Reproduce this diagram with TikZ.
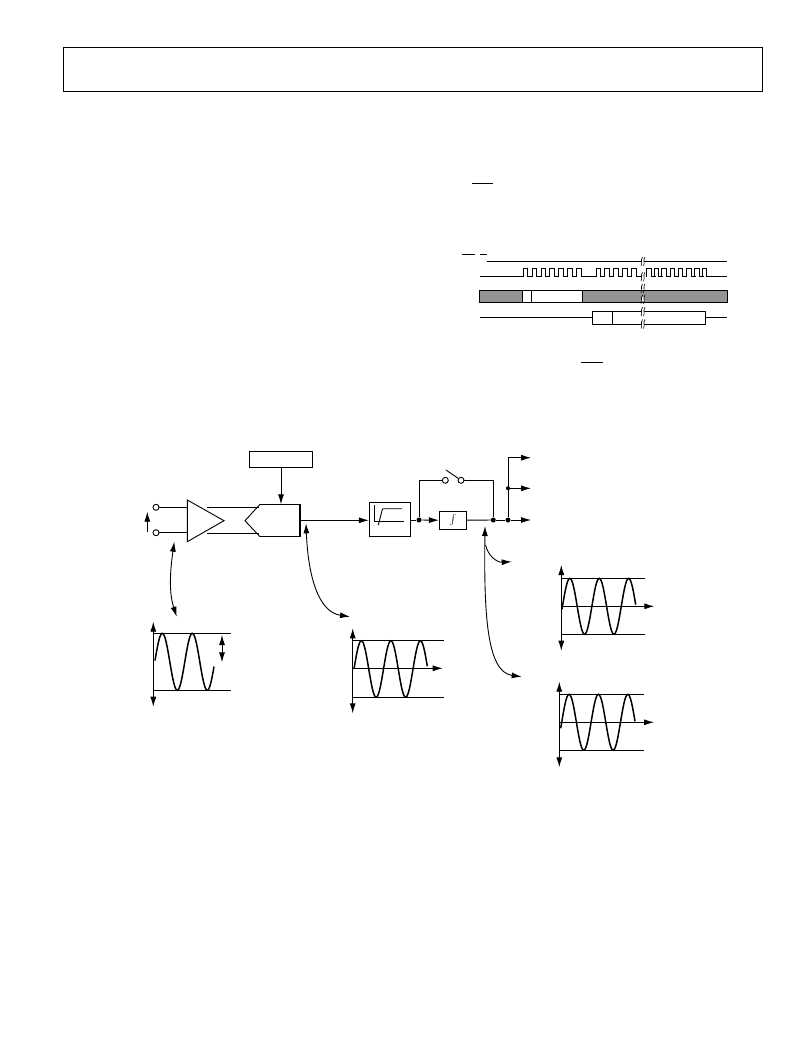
\documentclass[tikz,border=0pt]{standalone}
\usetikzlibrary{shapes,arrows.meta}
\tikzstyle{block} = [rectangle, draw, line width=0.9pt, inner sep=0pt]
\tikzstyle{tip} = [{Latex[length=10pt,width=6pt]}-{Latex[length=10pt,width=6pt]}]
\tikzstyle{line} = [draw, line width=0.9pt, -{Latex[length=10pt,width=6pt]}]
\tikzstyle{dline} = [draw, line width=0.9pt, tip]
\tikzstyle{wire} = [draw, line width=0.9pt]
\tikzstyle{dot} = [circle, fill=black, inner sep=0pt, minimum size=5pt]
\tikzstyle{term} = [circle, draw, fill=white, line width=0.9pt, inner sep=0pt, minimum size=6pt]
\tikzstyle{wave} = [line width=1.5pt, smooth, samples=70]
\tikzstyle{brk} = [line width=0.6pt]
\tikzstyle{pulse} = [line width=0.9pt, line join=miter]
\definecolor{busgray}{gray}{0.58}
\begin{document}
\begin{tikzpicture}[x=1pt, y=-1pt]
	\useasboundingbox (0,0) rectangle (802,1038);

	% page header
	\node [block, minimum width=699pt, minimum height=44pt] (header) at (413.2,69) {};

	% timing
	\coordinate (barA) at (472,183); \coordinate (barAe) at (493,183);
	\coordinate (barB) at (462,254.5); \coordinate (barBe) at (475,254.5);
	\coordinate (barC) at (480,254.5); \coordinate (barCe) at (487,254.5);
	\coordinate (barD) at (581,362); \coordinate (barDe) at (603,362);
	\path [wire] (barA) -- (barAe);
	\path [wire] (barB) -- (barBe);
	\path [wire] (barC) -- (barCe);
	\path [wire] (barD) -- (barDe);

	\coordinate (csL) at (487,261); \coordinate (csR) at (727,261);
	\path [wire] (csL) -- (csR);

	\coordinate (clkL) at (480,276.5); \coordinate (clkR) at (727,276.5);
	\path [wire] (clkL) -- (523.3,276.5);
	\path [wire] (581,276.5) -- (596,276.5);
	\foreach \x in {523.3,532.15,541,549.85,558.7,567.55,576.4,596,604.9,613.8,622.7,631.6,646.7,654,661.7,670,678.3,686.6,694.9,702.3} {
		\draw [pulse] (\x,276.5) -- (\x,268.5) -- (\x+4.6,268.5) -- (\x+4.6,276.5) -- (\x+8.9,276.5);
	}
	\path [wire] (706.9,276.5) -- (clkR);

	\node [block, fill=busgray, minimum width=248pt, minimum height=12pt] (sdo) at (603.5,296.5) {};
	\node [block, fill=white, minimum width=60pt, minimum height=12pt] (sdoA) at (552.5,296.5) {};
	\coordinate (sdoDa) at (531,290.5); \coordinate (sdoDb) at (531,302.5);
	\path [wire] (sdoDa) -- (sdoDb);

	\node [block, fill=white, minimum width=113.5pt, minimum height=13.5pt] (sdi) at (648.75,317.75) {};
	\coordinate (sdiL) at (480,317); \coordinate (sdiR) at (727,317);
	\path [wire] (sdiL) -- (sdi.west |- sdiL);
	\path [wire] (sdi.east |- sdiR) -- (sdiR);
	\coordinate (sdiDa) at (612.5,311); \coordinate (sdiDb) at (612.5,324.5);
	\path [wire] (sdiDa) -- (sdiDb);

	\foreach \y in {261.5,276.7,288.3,299.3,311.7,324} {
		\fill [white] (641,\y-2) rectangle (644.2,\y+2);
		\draw [brk] (642.6,\y-4.5) .. controls (640,\y-2.5) and (642.5,\y-1) .. (641.5,\y) .. controls (640.5,\y+1.5) and (643,\y+2.5) .. (641,\y+4.5);
		\draw [brk] (645,\y-4.5) .. controls (642.5,\y-2.5) and (645,\y-1) .. (644,\y) .. controls (643,\y+1.5) and (645.5,\y+2.5) .. (643.5,\y+4.5);
	}

	% signal chain
	\node [block, minimum width=63.4pt, minimum height=16pt] (refbox) at (281,459.3) {};
	\node [term] (inP) at (156,507.3) {};
	\node [term] (inN) at (156,532.7) {};
	\coordinate (vinB) at (147.3,532.3); \coordinate (vinT) at (147.3,511.7);
	\path [line] (vinB) -- (vinT);

	\coordinate (ampT) at (187.3,500); \coordinate (ampB) at (187.3,541.7); \coordinate (ampO) at (224,520.7);
	\path [wire, line join=miter] (ampT) -- (ampO) -- (ampB) -- cycle;
	\path [wire] (inP) -- (ampT |- inP);
	\path [wire] (inN) -- (ampT |- inN);

	\coordinate (adcT) at (260,504.3); \coordinate (adcR) at (300,504.3);
	\coordinate (adcS) at (300,536.7); \coordinate (adcB) at (260,536.7); \coordinate (adcN) at (245,520.7);
	\path [wire] (adcB) -- (adcN) -- (adcT);
	\path [draw, line width=1.1pt, line join=miter] (adcT) -- (adcR) -- (adcS) -- (adcB);
	\path [wire] (207,507.3) -- (258.5,507.3);
	\path [wire] (207,533) -- (258.5,533);
	\path [line] (refbox) -- (refbox |- adcT);

	\node [block, minimum width=41.4pt, minimum height=34.4pt] (sinc) at (390,519.5) {};
	\draw [line width=0.9pt] (374,505) -- (374,521.3) -- (403.7,521.3);
	\draw [line width=0.9pt] (378.3,525) -- (382.2,510) -- (383,508.7) -- (402,508.7);
	\path [line] (adcS |- 0,520.3) -- (sinc.west |- 0,520.3);

	\node [dot] (nodeA) at (419,520) {};
	\node [block, minimum width=27.4pt, minimum height=18pt] (intg) at (453,520.3) {\large$\int$};
	\node [dot] (nodeB) at (493.3,520) {};
	\node [dot] (nodeC) at (508,520) {};
	\node [dot, minimum size=4pt] (nodeD) at (508,488.3) {};
	\node [term] (swL) at (445.3,480.3) {};
	\node [term] (swR) at (461,480.3) {};
	\coordinate (swArm) at (446,470);
	\coordinate (outA) at (531,457.7); \coordinate (outB) at (531,488.3); \coordinate (outC) at (531,520);
	\path [wire] (sinc.east |- nodeA) -- (nodeA);
	\path [line] (nodeA) -- (intg);
	\path [wire] (intg) -- (nodeB);
	\path [wire] (nodeB) -- (nodeC);
	\path [line] (nodeC) -- (outC);
	\path [wire] (nodeA) |- (swL);
	\path [wire] (swR) -| (nodeB);
	\path [wire] (swArm) -- (swR);
	\path [line] (nodeC) |- (outA);
	\path [line] (nodeD) -- (outB);

	% curved pointers
	\coordinate (ptrAa) at (174.3,541.7); \coordinate (ptrAb) at (176.7,616.7);
	\draw [line width=0.9pt, tip] (ptrAa) .. controls (171,565) and (168,590) .. (ptrAb);
	\coordinate (ptrBa) at (306,523.3); \coordinate (ptrBb) at (350,616.7);
	\draw [line width=0.9pt, tip] (ptrBa) .. controls (308,575) and (318,612) .. (ptrBb);
	\coordinate (ptrCa) at (485,526); \coordinate (ptrCb) at (521.7,676.7); \coordinate (ptrCc) at (511.7,561.7);
	\draw [line width=0.9pt, tip] (ptrCa) .. controls (484,610) and (486,672) .. (ptrCb);
	\path [line] (485.6,545) .. controls (488,556) and (497,562.5) .. (ptrCc);

	% plot one
	\coordinate (aT) at (153.3,621.7); \coordinate (aB) at (153.3,706.7);
	\path [dline] (aT) -- (aB);
	\coordinate (aU) at (153.3,633.3); \coordinate (aUe) at (231,633.3);
	\coordinate (aD) at (153.3,690.3); \coordinate (aDe) at (231,690.3);
	\path [wire] (aU) -- (aUe);
	\path [wire] (aD) -- (aDe);
	\draw [wave, domain=155:214] plot (\x, {661.8-28.5*sin(12*(\x-154.8))});
	\coordinate (aAt) at (222,635); \coordinate (aAb) at (222,662.3);
	\path [dline] (aAt) -- (aAb);

	% plot two
	\coordinate (bT) at (352.7,628.3); \coordinate (bB) at (352.7,713.3);
	\path [dline] (bT) -- (bB);
	\coordinate (bU) at (352.7,640.7); \coordinate (bUe) at (444.3,640.7);
	\coordinate (bD) at (352.7,697.3); \coordinate (bDe) at (444.3,697.3);
	\coordinate (bM) at (352.7,668.3); \coordinate (bMe) at (442.7,668.3);
	\path [wire] (bU) -- (bUe);
	\path [wire] (bD) -- (bDe);
	\path [line] (bM) -- (bMe);
	\draw [wave, domain=354:427.3] plot (\x, {669-28.3*sin(12.2*(\x-354))});

	% plot three
	\coordinate (cT) at (561.3,565); \coordinate (cB) at (561.3,650.7);
	\path [dline] (cT) -- (cB);
	\coordinate (cU) at (561.3,578.3); \coordinate (cUe) at (645,578.3);
	\coordinate (cD) at (561.3,634.3); \coordinate (cDe) at (645,634.3);
	\coordinate (cM) at (561.3,606.3); \coordinate (cMe) at (654.3,606.3);
	\path [wire] (cU) -- (cUe);
	\path [wire] (cD) -- (cDe);
	\path [line] (cM) -- (cMe);
	\draw [wave, domain=562:635.7] plot (\x, {606.3-28*sin(12.25*(\x-562.5))});

	% plot four
	\coordinate (dT) at (559.3,681.7); \coordinate (dB) at (559.3,767.3);
	\path [dline] (dT) -- (dB);
	\coordinate (dU) at (559.3,694.3); \coordinate (dUe) at (644,694.3);
	\coordinate (dD) at (559.3,750.3); \coordinate (dDe) at (644,750.3);
	\coordinate (dM) at (559.3,722.3); \coordinate (dMe) at (654,722.3);
	\path [wire] (dU) -- (dUe);
	\path [wire] (dD) -- (dDe);
	\path [line] (dM) -- (dMe);
	\draw [wave, domain=560.7:635] plot (\x, {722.3-28*sin(12.25*(\x-561.7))});
\end{tikzpicture}
\end{document}
